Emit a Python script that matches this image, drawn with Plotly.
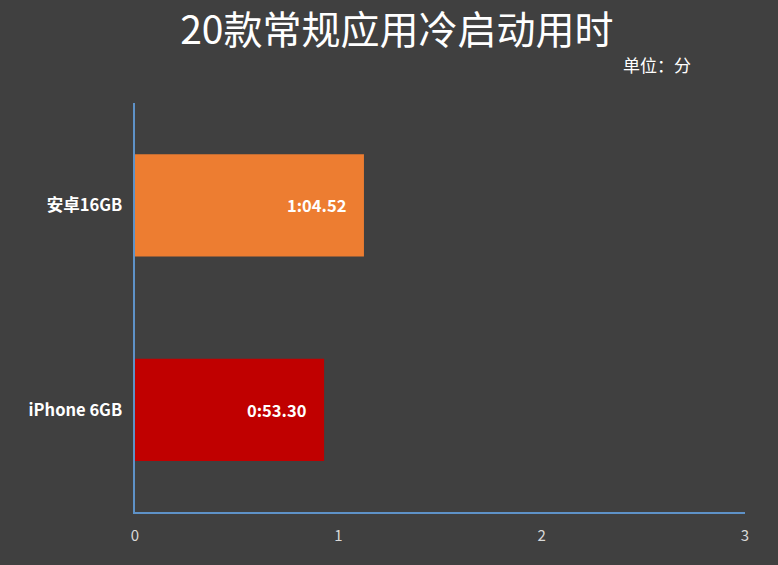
import plotly.graph_objects as go

categories = ["iPhone 6GB", "安卓16GB"]
values = [0.93, 1.126]
labels = ["0:53.30", "1:04.52"]
colors = ["#C00000", "#ED7D31"]
x_ticks = [0, 1, 2, 3]

FONT = "Noto Sans CJK SC"

fig = go.Figure()
fig.add_trace(go.Bar(
    y=categories, x=values, orientation="h",
    marker=dict(color=colors, line=dict(width=0)),
    hoverinfo="skip",
))

for c, v, t in zip(categories, values, labels):
    fig.add_annotation(x=v, y=c, text="<b>%s</b>" % t, showarrow=False,
                       xanchor="right", xshift=-16,
                       font=dict(family=FONT, size=16.5, color="#FFFFFF"))

fig.add_annotation(x=0.915, y=1.095, xref="paper", yref="paper",
                   text="单位：分", showarrow=False, xanchor="right", yanchor="middle",
                   font=dict(family=FONT, size=17, color="#FFFFFF"))

fig.update_layout(
    width=778, height=565,
    paper_bgcolor="#404040", plot_bgcolor="#404040",
    margin=dict(l=135, r=33, t=103, b=53),
    title=dict(text="20款常规应用冷启动用时", x=0.51, xanchor="center",
               y=0.947, yanchor="middle",
               font=dict(family=FONT, size=39, color="#FFFFFF")),
    bargap=0.5,
    showlegend=False,
    xaxis=dict(range=[0, 3], tickvals=x_ticks, showgrid=False, zeroline=False,
               showline=True, linecolor="#5E92C8", linewidth=2,
               ticks="", ticklen=0, ticklabelstandoff=9,
               tickfont=dict(family=FONT, size=15, color="#D9D9D9")),
    yaxis=dict(showgrid=False, zeroline=False, showline=True,
               linecolor="#5E92C8", linewidth=2, ticks="",
               categoryorder="array", categoryarray=categories,
               ticksuffix="  ",
               tickfont=dict(family=FONT, size=16.5, color="#FFFFFF", weight="bold")),
)

fig.write_html("out.html", config={"displayModeBar": False},
               post_script="document.body.style.margin='0';document.body.style.background='#404040';")
